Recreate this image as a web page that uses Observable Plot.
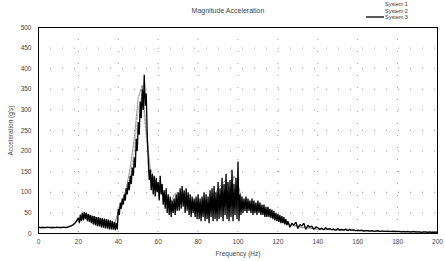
<!DOCTYPE html>
<html>
<head>
<meta charset="utf-8">
<script src="https://cdn.jsdelivr.net/npm/d3@7"></script>
<script src="https://cdn.jsdelivr.net/npm/@observablehq/plot@0.6"></script>
<style>
  html, body { margin: 0; padding: 0; background: #fff; }
  #wrap { position: relative; width: 445px; height: 261px; font-family: "Liberation Sans", Arial, sans-serif; }
  #legend { position: absolute; left: 366px; top: 1px; font-size: 5.5px; color: #333; line-height: 6.5px; }
  #legend div { display: flex; align-items: center; justify-content: flex-end; }
  #legend svg { margin-right: 1px; }
</style>
</head>
<body>
<div id="wrap"><div id="chart"></div><div id="legend"></div></div>
<script>
// ---- Data ----
const seriesNames = ["System 1", "System 2", "System 3"];
const xTicks = [0, 20, 40, 60, 80, 100, 120, 140, 160, 180, 200];
const yTicks = [0, 50, 100, 150, 200, 250, 300, 350, 400, 450, 500];

// Systems 1 and 2 (grey, mostly hidden), every 2 Hz from 0 to 200
const freqGrey = [
  0,2,4,6,8,10,12,14,16,18, 20,22,24,26,28,30,32,34,36,38,
  40,42,44,46,48,50,52,54,56,58, 60,62,64,66,68,70,72,74,76,78,
  80,82,84,86,88,90,92,94,96,98, 100,102,104,106,108,110,112,114,116,118,
  120,122,124,126,128,130,132,134,136,138, 140,142,144,146,148,150,152,154,156,158,
  160,162,164,166,168,170,172,174,176,178, 180,182,184,186,188,190,192,194,196,198,200
];
const sys1 = [
  16,16,16,16,16,16,16,17,19,24, 40,52,48,44,40,38,34,30,26,22,
  50,70,100,140,200,300,340,230,150,120, 110,95,75,65,85,95,80,65,75,70,
  65,70,75,80,85,100,110,120,95,125, 110,75,65,62,60,55,52,50,45,40,
  34,28,24,20,18,16,14,13,12,11, 10,10,9,9,8,8,8,7,7,7,
  6,6,6,6,5,5,5,5,4,4, 4,4,4,3,3,3,3,3,3,3,3
];
const sys2 = [
  14,14,14,14,14,14,14,15,17,22, 35,48,45,42,40,36,32,28,24,20,
  55,80,110,160,230,330,360,250,160,130, 120,100,80,70,95,100,85,70,80,75,
  70,75,80,85,90,110,120,130,100,140, 120,80,70,68,65,60,58,55,50,45,
  38,30,25,22,20,18,15,14,13,12, 11,11,10,10,9,9,8,8,8,7,
  7,7,6,6,6,5,5,5,5,4, 4,4,4,4,4,3,3,3,3,3,3
];

// System 3 (black, noisy): [frequency Hz, acceleration]
const sys3Points = [
  [0,15],[1,14],[2,15],[3,14],[4,15],[5,15],[6,14],[7,15],[8,14],[9,15],[10,15],[11,14],[12,15],[13,15],[14,14],
  [15,16],[16,18],[17,20],[18,24],[19,30],
  [20,38],[20.5,25],[21,45],[21.5,30],[22,50],[22.5,32],[23,52],[23.5,35],[24,50],[24.5,30],
  [25,47],[25.5,28],[26,45],[26.5,25],[27,43],[27.5,22],[28,42],[28.5,20],[29,40],[29.5,18],
  [30,40],[30.5,17],[31,38],[31.5,15],[32,37],[32.5,14],[33,36],[33.5,12],[34,35],[34.5,12],
  [35,34],[35.5,10],[36,32],[36.5,10],[37,30],[37.5,9],[38,28],[38.5,8],[39,26],[39.5,10],
  [40,60],[40.5,45],[41,75],[41.5,60],[42,85],[42.5,70],[43,95],[43.5,80],[44,110],[44.5,95],
  [45,125],[45.5,105],[46,140],[46.5,120],[47,160],[47.5,140],
  [48,185],[48.5,160],[49,230],[49.5,200],[50,270],[50.5,240],[51,320],[51.5,280],[52,350],[52.5,300],
  [53,385],[53.5,310],[54,340],[54.5,240],[55,180],[55.5,130],
  [56,155],[56.5,105],[57,145],[57.5,95],[58,140],[58.5,90],[59,135],[59.5,100],
  [60,125],[60.5,80],[61,140],[61.5,95],[62,120],[62.5,70],[63,105],[63.5,60],[64,110],[64.5,50],
  [65,95],[65.5,45],[66,90],[66.5,40],[67,80],[67.5,50],[68,85],[68.5,45],[69,95],[69.5,55],
  [70,100],[70.5,55],[71,110],[71.5,60],[72,115],[72.5,65],[73,105],[73.5,50],[74,110],[74.5,55],
  [75,100],[75.5,45],[76,95],[76.5,40],[77,90],[77.5,50],[78,85],[78.5,40],[79,90],[79.5,35],
  [80,95],[80.5,35],[81,85],[81.5,30],[82,90],[82.5,40],[83,100],[83.5,30],[84,95],[84.5,35],
  [85,90],[85.5,25],[86,105],[86.5,40],[87,110],[87.5,30],[88,115],[88.5,35],[89,100],[89.5,30],
  [90,125],[90.5,35],[91,110],[91.5,40],[92,135],[92.5,30],[93,120],[93.5,45],[94,145],[94.5,35],
  [95,125],[95.5,30],[96,130],[96.5,40],[97,155],[97.5,30],[98,120],[98.5,45],[99,135],[99.5,35],
  [100,175],[100.5,30],[101,95],[101.5,45],[102,90],[102.5,50],[103,85],[103.5,55],[104,90],[104.5,50],
  [105,85],[105.5,55],[106,80],[106.5,50],[107,85],[107.5,45],[108,80],[108.5,50],[109,75],[109.5,45],
  [110,80],[110.5,50],[111,75],[111.5,45],[112,70],[112.5,45],[113,70],[113.5,40],[114,65],[114.5,40],
  [115,65],[115.5,40],[116,60],[116.5,38],[117,58],[117.5,35],[118,55],[118.5,32],[119,50],[119.5,30],
  [120,48],[120.5,28],[121,45],[121.5,25],[122,42],[122.5,25],[123,40],[123.5,22],[124,35],[124.5,20],
  [125,30],[126,15],[127,25],[128,20],[129,28],[130,12],[131,22],[132,18],[133,25],[134,10],
  [135,20],[136,15],[137,18],[138,10],[139,16],
  [140,14],[141,10],[142,13],[143,9],[144,14],[145,10],[146,12],[147,9],[148,11],[149,8],
  [150,12],[151,8],[152,10],[153,8],[154,11],[155,7],[156,10],[157,8],[158,9],[159,7],
  [160,8],[161,7],[162,8],[163,6],[164,7],[165,7],[166,6],[167,7],[168,6],[169,6],
  [170,7],[171,5],[172,6],[173,6],[174,5],[175,6],[176,5],[177,5],[178,6],[179,5],
  [180,5],[181,5],[182,4],[183,5],[184,4],[185,5],[186,4],[187,4],[188,5],[189,4],
  [190,4],[191,4],[192,3],[193,4],[194,4],[195,3],[196,4],[197,3],[198,3],[199,3],[200,3]
];

const greyData = freqGrey.map((f, i) => ({f, s1: sys1[i], s2: sys2[i]}));
const mainData = sys3Points.map(([f, v]) => ({f, v}));

const styles = [
  {stroke: "#aaa", strokeWidth: 0.8, strokeDasharray: "2,1.5"},
  {stroke: "#777", strokeWidth: 0.8, strokeDasharray: "3,1"},
  {stroke: "#000", strokeWidth: 1.3, strokeDasharray: null}
];

const chart = Plot.plot({
  width: 445,
  height: 261,
  marginLeft: 38,
  marginRight: 8,
  marginTop: 27,
  marginBottom: 28,
  style: {fontFamily: "Liberation Sans, Arial, sans-serif", fontSize: "6.5px", color: "#444", background: "#fff"},
  x: {domain: [0, 200], ticks: xTicks, label: "Frequency (Hz)"},
  y: {domain: [0, 500], ticks: yTicks, label: "Acceleration (g's)"},
  marks: [
    Plot.gridX(xTicks, {stroke: "#777", strokeOpacity: 0.7, strokeDasharray: "1,11"}),
    Plot.gridY(yTicks, {stroke: "#777", strokeOpacity: 0.7, strokeDasharray: "1,11"}),
    Plot.line(greyData, {x: "f", y: "s1", ...styles[0]}),
    Plot.line(greyData, {x: "f", y: "s2", ...styles[1]}),
    Plot.line(mainData, {x: "f", y: "v", ...styles[2], strokeLinejoin: "miter"}),
    Plot.frame({stroke: "#000", strokeWidth: 1}),
    Plot.axisX(xTicks, {tickSize: 0, tickPadding: 6, label: "Frequency (Hz)", labelAnchor: "center", labelArrow: "none", labelOffset: 22, fill: "#444"}),
    Plot.axisY(yTicks, {tickSize: 0, tickPadding: 7, label: "Acceleration (g's)", labelAnchor: "center", labelArrow: "none", labelOffset: 30, fill: "#444"}),
    Plot.text(["Magnitude Acceleration"], {frameAnchor: "top", dx: -10, dy: -19, fontSize: 7, fill: "#444"})
  ]
});
document.getElementById("chart").appendChild(chart);

// Legend
const legend = document.getElementById("legend");
seriesNames.forEach((name, i) => {
  const row = document.createElement("div");
  const st = styles[i];
  row.innerHTML = `<svg width="18" height="4"><line x1="0" x2="18" y1="2" y2="2" stroke="${i === 2 ? st.stroke : "none"}" stroke-width="${st.strokeWidth}"></line></svg><span>${name}</span>`;
  legend.appendChild(row);
});
</script>
</body>
</html>
